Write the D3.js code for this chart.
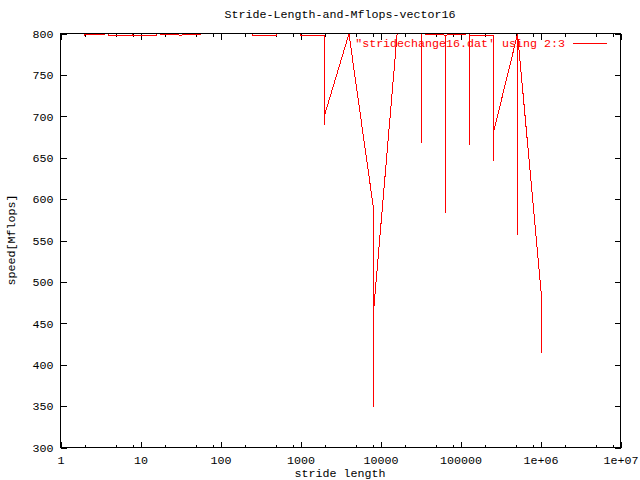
<!DOCTYPE html>
<html>
<head>
<meta charset="utf-8">
<script src="https://cdnjs.cloudflare.com/ajax/libs/d3/7.8.5/d3.min.js"></script>
<style>
  body { margin: 0; background: #fff; }
  text { font-family: "Liberation Mono", "DejaVu Sans Mono", monospace; font-size: 11.67px; }
</style>
</head>
<body>
<div id="chart"></div>
<script>
// data: stride length (column 2) and three Mflops runs per stride (column 3)
var stride = [1, 2, 4, 8, 16, 32, 64, 128, 256, 512, 1024, 2048, 4096, 8192,
              16384, 32768, 65536, 131072, 262144, 524288, 1048576];
var run1 = [799, 799, 799, 797.5, 797.5, 797.5, 799, 799, 799, 797.5, 799, 797.5, 799, 592,
            799, 799, 797.5, 799, 797.5, 799, 480];
var run2 = [799, 799, 797.5, 799, 799, 797.5, 799, 799, 799, 799, 797.5, 689, 799, 348,
            799, 667, 583, 665, 645, 556, 413];
var run3 = [799, 797.5, 797.5, 797.5, 799, 797.5, 799, 799, 797.5, 799, 797.5, 702, 799, 457,
            799, 799, 797.5, 797.5, 680, 799, 463];

var xTicks = [1, 10, 100, 1000, 10000, 100000, 1000000, 10000000];
var xTickLabels = ["1", "10", "100", "1000", "10000", "100000", "1e+06", "1e+07"];
var xMinor = [2, 5, 8];
var yTicks = [300, 350, 400, 450, 500, 550, 600, 650, 700, 750, 800];

// points in file order
var points = [];
stride.forEach(function(s, i) {
  points.push({x: s, y: run1[i]});
  points.push({x: s, y: run2[i]});
  points.push({x: s, y: run3[i]});
});

// plot box
var boxLeft = 60, boxRight = 620, boxTop = 33, boxBottom = 447;

var svg = d3.select("#chart")
  .append("svg")
  .attr("width", 640)
  .attr("height", 480);

var x = d3.scaleLog()
  .domain([1, 1e7])
  .range([boxLeft, boxRight]);

var y = d3.scaleLinear()
  .domain([300, 800])
  .range([boxBottom, boxTop]);

// title and axis labels
svg.append("text")
  .attr("x", 340)
  .attr("y", 18)
  .attr("text-anchor", "middle")
  .text("Stride-Length-and-Mflops-vector16");

svg.append("text")
  .attr("x", 340)
  .attr("y", 477)
  .attr("text-anchor", "middle")
  .text("stride length");

svg.append("text")
  .attr("transform", "translate(15,240) rotate(-90)")
  .attr("text-anchor", "middle")
  .text("speed[Mflops]");

// y ticks, mirrored on the right border
var yAxis = svg.append("g")
  .attr("transform", "translate(" + (boxLeft + 0.5) + ",0.5)")
  .call(d3.axisLeft(y).tickValues(yTicks).tickSize(-6).tickPadding(7).tickFormat(d3.format("d")));
yAxis.select(".domain").remove();

var yAxisR = svg.append("g")
  .attr("transform", "translate(" + (boxRight + 0.5) + ",0.5)")
  .call(d3.axisRight(y).tickValues(yTicks).tickSize(-6).tickFormat(""));
yAxisR.select(".domain").remove();

// x ticks, major and minor, mirrored on the top border
var minorVals = [];
xTicks.slice(0, -1).forEach(function(t) {
  xMinor.forEach(function(m) { minorVals.push(t * m); });
});

var xAxis = svg.append("g")
  .attr("transform", "translate(0.5," + (boxBottom + 0.5) + ")")
  .call(d3.axisBottom(x).tickValues(xTicks).tickSize(-6).tickPadding(8)
    .tickFormat(function(d, i) { return xTickLabels[i]; }));
xAxis.select(".domain").remove();

var xAxisT = svg.append("g")
  .attr("transform", "translate(0.5," + (boxTop + 0.5) + ")")
  .call(d3.axisTop(x).tickValues(xTicks).tickSize(-6).tickFormat(""));
xAxisT.select(".domain").remove();

svg.append("g")
  .attr("transform", "translate(0.5," + (boxBottom + 0.5) + ")")
  .call(d3.axisBottom(x).tickValues(minorVals).tickSize(-3).tickFormat(""))
  .select(".domain").remove();

svg.append("g")
  .attr("transform", "translate(0.5," + (boxTop + 0.5) + ")")
  .call(d3.axisTop(x).tickValues(minorVals).tickSize(-3).tickFormat(""))
  .select(".domain").remove();

svg.selectAll(".tick line").attr("stroke", "#000").attr("shape-rendering", "crispEdges");
svg.selectAll(".tick text").attr("fill", "#000").style("font-family", "Liberation Mono").style("font-size", "11.67px");

// clip to the plot box
svg.append("clipPath")
  .attr("id", "clip")
  .append("rect")
  .attr("x", boxLeft)
  .attr("y", boxTop)
  .attr("width", boxRight - boxLeft)
  .attr("height", boxBottom - boxTop);

var line = d3.line()
  .x(function(d) { return x(d.x); })
  .y(function(d) { return y(d.y); });

svg.append("path")
  .datum(points)
  .attr("clip-path", "url(#clip)")
  .attr("fill", "none")
  .attr("stroke", "#ff0000")
  .attr("stroke-width", 1)
  .attr("shape-rendering", "crispEdges")
  .attr("d", line);

// border
svg.append("rect")
  .attr("x", boxLeft + 0.5)
  .attr("y", boxTop + 0.5)
  .attr("width", boxRight - boxLeft)
  .attr("height", boxBottom - boxTop)
  .attr("fill", "none")
  .attr("stroke", "#000")
  .attr("shape-rendering", "crispEdges");

// key
svg.append("text")
  .attr("x", 565)
  .attr("y", 47)
  .attr("text-anchor", "end")
  .attr("fill", "#ff0000")
  .text("\"stridechange16.dat' using 2:3");

svg.append("line")
  .attr("x1", 573)
  .attr("x2", 607)
  .attr("y1", 43.5)
  .attr("y2", 43.5)
  .attr("stroke", "#ff0000")
  .attr("shape-rendering", "crispEdges");
</script>
</body>
</html>
